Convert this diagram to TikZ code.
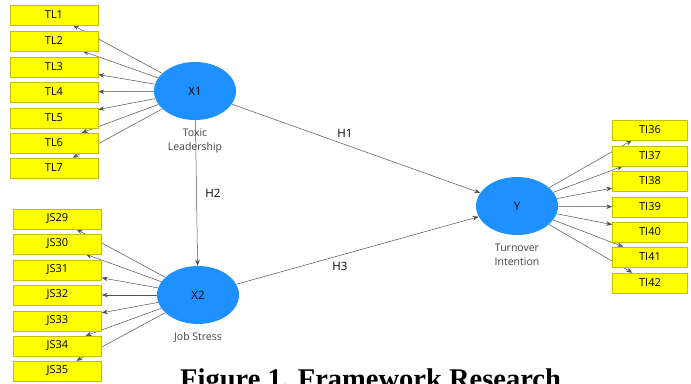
\documentclass[tikz,border=0pt]{standalone}
\usepackage{fontspec}
\setmainfont{Open Sans}
\newfontfamily\capfont{Liberation Serif}
\usetikzlibrary{arrows.meta,backgrounds,shapes.geometric}
\definecolor{latblue}{HTML}{1E90FF}
\definecolor{boxyellow}{HTML}{FFFF00}
\definecolor{boxedge}{HTML}{C8BE00}
\definecolor{edgegray}{HTML}{505050}
\begin{document}
\begin{tikzpicture}[x=1pt,y=-1pt,
  ind/.style={draw=boxedge,line width=0.5pt,fill=boxyellow,minimum width=88pt,minimum height=20pt,inner sep=0pt,font=\fontsize{11}{12}\selectfont},
  lat/.style={ellipse,fill=latblue,minimum width=82pt,minimum height=58pt,inner sep=0pt,font=\fontsize{11.5}{12}\selectfont},
  sub/.style={text=black!75,align=center,font=\fontsize{10.5}{14}\selectfont},
  hyp/.style={font=\fontsize{11.5}{12}\selectfont},
  con/.style={draw=edgegray,line width=0.5pt,-{Stealth[length=6pt,width=4.5pt]}},
]
\useasboundingbox (0,0) rectangle (691,383);
\begin{scope}
\clip (0,0) rectangle (691,383);
% latent variables
\node[lat] (X1) at (195,91) {X1};
\node[lat] (X2) at (198,295) {X2};
\node[lat] (Y) at (517,206) {Y};
\node[sub] (X1l) at (195,141) {Toxic\\Leadership};
\node[sub] (X2l) at (198,337) {Job Stress};
\node[sub] (Yl) at (517,255) {Turnover\\Intention};
% indicators
\foreach \n/\y in {1/15,2/41,3/67,4/92,5/118,6/143,7/168}
  \node[ind] (TL\n) at (54,\y) {TL\n};
\foreach \n/\y in {29/219,30/244,31/270,32/295,33/321,34/346,35/371}
  \node[ind] (JS\n) at (57.5,\y) {JS\n};
\foreach \n/\y in {36/130,37/156,38/181,39/207,40/232,41/257,42/283}
  \node[ind,minimum width=75pt] (TI\n) at (650,\y) {TI\n};
% connectors
\begin{pgfonlayer}{background}
\foreach \n in {1,...,7} \draw[con] (X1) -- (TL\n);
\foreach \n in {29,...,35} \draw[con] (X2) -- (JS\n);
\foreach \n in {36,...,42} \draw[con] (Y) -- (TI\n);
\draw[con] (X1) -- (Y);
\draw[con] (X1) -- (X2);
\draw[con] (X2) -- (Y);
\end{pgfonlayer}
\node[hyp] (H1) at (345,133) {H1};
\node[hyp] (H2) at (213,193) {H2};
\node[hyp] (H3) at (340,266) {H3};
\node[anchor=base west,inner sep=0pt,font=\capfont\bfseries\fontsize{28.5}{30}\selectfont] (cap) at (180,388) {Figure 1.\hspace{9pt}Framework Research};
\end{scope}
\end{tikzpicture}
\end{document}
